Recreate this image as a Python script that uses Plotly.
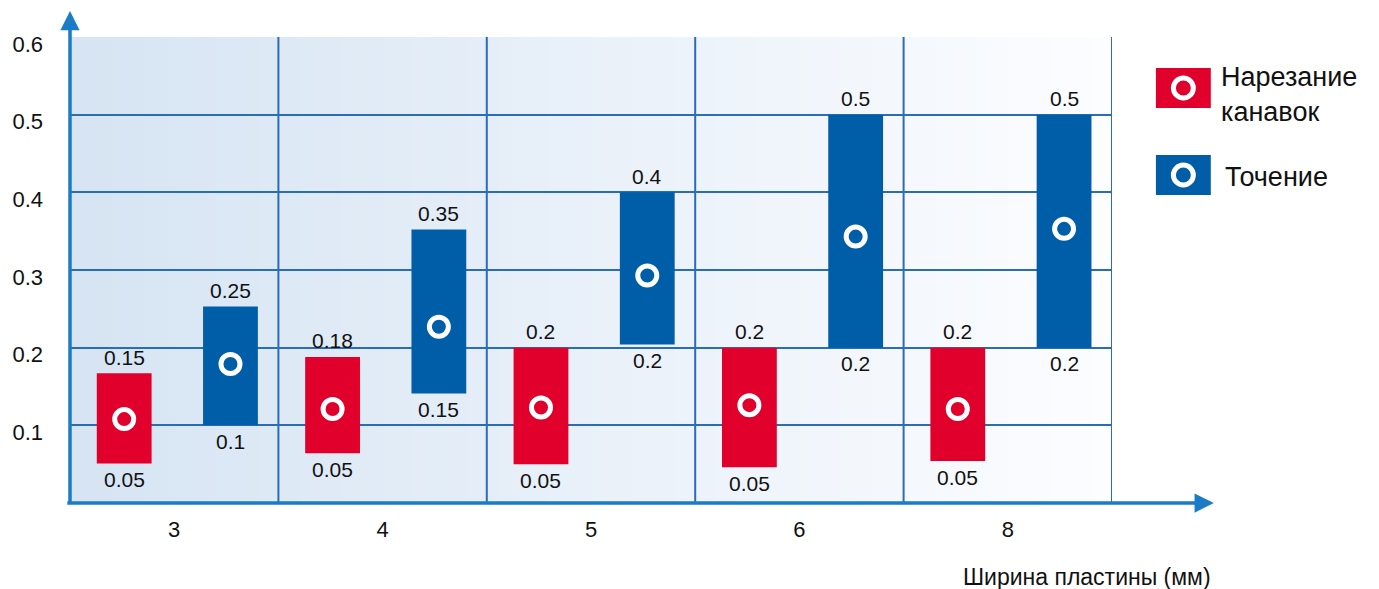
import plotly.graph_objects as go

# ---------------- data ----------------
categories = ["3", "4", "5", "6", "8"]

groove_low = [0.051, 0.064, 0.050, 0.046, 0.054]
groove_high = [0.167, 0.188, 0.200, 0.200, 0.200]
groove_mid = [0.108, 0.121, 0.123, 0.126, 0.121]
groove_low_text = ["0.05", "0.05", "0.05", "0.05", "0.05"]
groove_high_text = ["0.15", "0.18", "0.2", "0.2", "0.2"]

turn_low = [0.100, 0.141, 0.204, 0.200, 0.200]
turn_high = [0.253, 0.352, 0.400, 0.500, 0.500]
turn_mid = [0.179, 0.227, 0.293, 0.343, 0.353]
turn_low_text = ["0.1", "0.15", "0.2", "0.2", "0.2"]
turn_high_text = ["0.25", "0.35", "0.4", "0.5", "0.5"]

y_tick_vals = [0.1, 0.2, 0.3, 0.4, 0.5, 0.6]
y_tick_text = ["0.1", "0.2", "0.3", "0.4", "0.5", "0.6"]

legend_names = ["Нарезание<br>канавок", "Точение"]
x_title = "Ширина пластины (мм)"

# ---------------- style ----------------
RED = "#e0002b"
BLUE = "#005ea8"
GRID = "#2b6db4"
AXIS = "#1a7bc6"
FONT = "Liberation Sans, Arial, sans-serif"
RED_OFF, BLUE_OFF, BAR_W = 0.26, 0.77, 0.263

W, H = 1379, 589
L, R, T, B = 68, 1379 - 1112, 37, 589 - 503
PW, PH = W - L - R, H - T - B

def px(xp):
    return (xp - L) / PW

def py(yp):
    return (H - B - yp) / PH

n = len(categories)
xr = [i + RED_OFF for i in range(n)]
xb = [i + BLUE_OFF for i in range(n)]

fig = go.Figure()

# bars
fig.add_trace(go.Bar(x=xr, y=[h - l for h, l in zip(groove_high, groove_low)], base=groove_low,
                     width=BAR_W, marker=dict(color=RED, line=dict(width=0)), showlegend=False,
                     hoverinfo="skip"))
fig.add_trace(go.Bar(x=xb, y=[h - l for h, l in zip(turn_high, turn_low)], base=turn_low,
                     width=BAR_W, marker=dict(color=BLUE, line=dict(width=0)), showlegend=False,
                     hoverinfo="skip"))

# ring markers
fig.add_trace(go.Scatter(x=xr, y=groove_mid, mode="markers", showlegend=False, hoverinfo="skip",
                         marker=dict(size=19, color=RED, line=dict(color="white", width=5))))
fig.add_trace(go.Scatter(x=xb, y=turn_mid, mode="markers", showlegend=False, hoverinfo="skip",
                         marker=dict(size=19, color=BLUE, line=dict(color="white", width=5))))

annotations = []
# value labels
lab_font = dict(family=FONT, size=21, color="#111111")
for xs, ys, txt, shift in [(xr, groove_high, groove_high_text, 16),
                           (xr, groove_low, groove_low_text, -16),
                           (xb, turn_high, turn_high_text, 16),
                           (xb, turn_low, turn_low_text, -16)]:
    for xv, yv, tv in zip(xs, ys, txt):
        annotations.append(dict(x=xv, y=yv, xref="x", yref="y", text=tv, showarrow=False,
                                xanchor="center", yanchor="middle", yshift=shift, font=lab_font))

shapes = []
# gradient background
c0 = (214, 228, 243)
c1 = (252, 253, 255)
steps = 100
for k in range(steps):
    t = k / (steps - 1)
    col = tuple(round(a + (b - a) * t) for a, b in zip(c0, c1))
    shapes.append(dict(type="rect", xref="x", yref="paper",
                       x0=n * k / steps, x1=n * (k + 1) / steps + 0.01, y0=0, y1=1,
                       fillcolor="rgb(%d,%d,%d)" % col, line=dict(width=0), layer="below"))
# vertical grid lines
for i in range(1, n + 1):
    shapes.append(dict(type="line", xref="x", yref="paper", x0=i, x1=i, y0=0, y1=1,
                       line=dict(color=GRID, width=2), layer="between"))

# legend boxes
leg_colors = [RED, BLUE]
leg_centers = [88, 175]
for col, cy in zip(leg_colors, leg_centers):
    shapes.append(dict(type="rect", xref="paper", yref="paper",
                       x0=px(1156), x1=px(1211), y0=py(cy + 20), y1=py(cy - 20),
                       fillcolor=col, line=dict(width=0)))
    shapes.append(dict(type="circle", xref="paper", yref="paper",
                       x0=px(1183.5 - 10), x1=px(1183.5 + 10), y0=py(cy + 10), y1=py(cy - 10),
                       fillcolor=col, line=dict(color="white", width=5)))

# legend text
annotations.append(dict(xref="paper", yref="paper", x=px(1219), y=py(94), xanchor="left",
                        yanchor="middle", align="left", showarrow=False, text=legend_names[0],
                        font=dict(family=FONT, size=27, color="#111111")))
annotations.append(dict(xref="paper", yref="paper", x=px(1223), y=py(177), xanchor="left",
                        yanchor="middle", align="left", showarrow=False, text=legend_names[1],
                        font=dict(family=FONT, size=27, color="#111111")))
# x title
annotations.append(dict(xref="paper", yref="paper", x=px(1213), y=py(577), xanchor="right",
                        yanchor="middle", showarrow=False, text=x_title,
                        font=dict(family=FONT, size=23, color="#111111")))
# axis arrows
annotations.append(dict(xref="paper", yref="paper", x=0, y=py(11), ax=0, ay=503 - 11 + 2,
                        axref="pixel", ayref="pixel", showarrow=True, arrowhead=2,
                        arrowsize=1.1, arrowwidth=3.5, arrowcolor=AXIS, text=""))
annotations.append(dict(xref="paper", yref="paper", x=px(1214), y=0, ax=-(1214 - 68 + 2), ay=0,
                        axref="pixel", ayref="pixel", showarrow=True, arrowhead=2,
                        arrowsize=1.1, arrowwidth=3.5, arrowcolor=AXIS, text=""))

fig.update_layout(
    width=W, height=H,
    margin=dict(l=L, r=R, t=T, b=B, pad=0),
    paper_bgcolor="white", plot_bgcolor="white",
    barmode="overlay", showlegend=False, hovermode=False,
    shapes=shapes, annotations=annotations,
    font=dict(family=FONT, color="#111111"),
    xaxis=dict(range=[0, n], tickvals=[i + 0.5 for i in range(n)], ticktext=categories,
               showgrid=False, zeroline=False, showline=False, ticks="",
               tickfont=dict(family=FONT, size=22, color="#111111"), ticklabelstandoff=11,
               fixedrange=True),
    yaxis=dict(range=[0, 0.6], tickvals=y_tick_vals, ticktext=y_tick_text,
               showgrid=True, gridcolor=GRID, gridwidth=2, zeroline=False, showline=False,
               ticks="", tickfont=dict(family=FONT, size=22, color="#111111"),
               ticklabelstandoff=26, ticklabelshift=7, fixedrange=True),
)

fig.write_html("out.html", config={"displayModeBar": False, "staticPlot": True},
               post_script="document.body.style.margin='0';document.body.style.overflow='hidden';")
